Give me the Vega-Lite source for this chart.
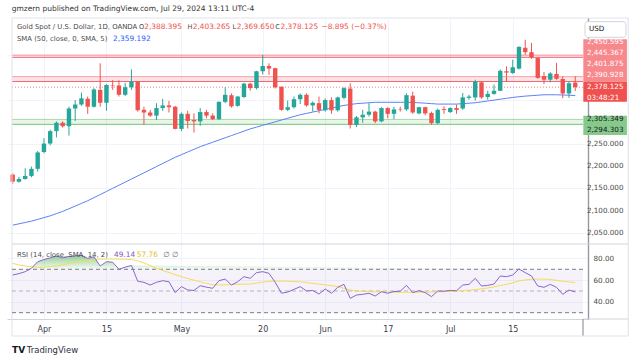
{
  "$schema": "https://vega.github.io/schema/vega-lite/v6.json",
  "width": 581,
  "height": 301,
  "autosize": {"type": "none"},
  "padding": {"left": 7, "top": 18, "right": 55, "bottom": 42},
  "background": "white",
  "config": {
    "view": {"stroke": null},
    "font": "DejaVu Sans",
    "text": {"font": "DejaVu Sans"},
    "axis": {"labelFont": "DejaVu Sans", "labelOverlap": false}
  },
  "datasets": {
    "bars": [
      {"d":"2024-03-22","o":2181,"h":2184,"l":2160,"c":2165,"sma":2067,"rsi":64.7,"rsima":75.5},
      {"d":"2024-03-25","o":2165,"h":2176,"l":2163,"c":2171,"sma":2070,"rsi":66,"rsima":74},
      {"d":"2024-03-26","o":2171,"h":2195,"l":2170,"c":2178,"sma":2073,"rsi":67.8,"rsima":73},
      {"d":"2024-03-27","o":2178,"h":2199,"l":2175,"c":2194,"sma":2076,"rsi":70.9,"rsima":72.3},
      {"d":"2024-03-28","o":2194,"h":2234,"l":2188,"c":2231,"sma":2080,"rsi":77,"rsima":71.8},
      {"d":"2024-04-01","o":2232,"h":2263,"l":2229,"c":2251,"sma":2084,"rsi":79,"rsima":72},
      {"d":"2024-04-02","o":2251,"h":2282,"l":2247,"c":2279,"sma":2088,"rsi":80.5,"rsima":72.5},
      {"d":"2024-04-03","o":2279,"h":2301,"l":2265,"c":2298,"sma":2093,"rsi":82.3,"rsima":73},
      {"d":"2024-04-04","o":2298,"h":2301,"l":2287,"c":2290,"sma":2098,"rsi":80.5,"rsima":74},
      {"d":"2024-04-05","o":2290,"h":2334,"l":2269,"c":2330,"sma":2104,"rsi":82,"rsima":75.5},
      {"d":"2024-04-08","o":2330,"h":2349,"l":2302,"c":2339,"sma":2110,"rsi":82.3,"rsima":76.5},
      {"d":"2024-04-09","o":2339,"h":2366,"l":2336,"c":2353,"sma":2116,"rsi":83,"rsima":77.3},
      {"d":"2024-04-10","o":2352,"h":2357,"l":2318,"c":2334,"sma":2122,"rsi":80.1,"rsima":78},
      {"d":"2024-04-11","o":2334,"h":2376,"l":2332,"c":2373,"sma":2129,"rsi":81.5,"rsima":78.7},
      {"d":"2024-04-12","o":2372,"h":2432,"l":2334,"c":2343,"sma":2136,"rsi":73,"rsima":79.3},
      {"d":"2024-04-15","o":2343,"h":2385,"l":2325,"c":2383,"sma":2143,"rsi":77,"rsima":79.5},
      {"d":"2024-04-16","o":2383,"h":2394,"l":2372,"c":2382,"sma":2150,"rsi":76.5,"rsima":79.5},
      {"d":"2024-04-17","o":2382,"h":2394,"l":2357,"c":2361,"sma":2157,"rsi":70,"rsima":79.4},
      {"d":"2024-04-18","o":2361,"h":2388,"l":2358,"c":2378,"sma":2164,"rsi":72,"rsima":79.3},
      {"d":"2024-04-19","o":2378,"h":2418,"l":2372,"c":2391,"sma":2171,"rsi":73.5,"rsima":79},
      {"d":"2024-04-22","o":2391,"h":2391,"l":2323,"c":2326,"sma":2178,"rsi":59,"rsima":77.8},
      {"d":"2024-04-23","o":2327,"h":2334,"l":2293,"c":2321,"sma":2185,"rsi":58,"rsima":76},
      {"d":"2024-04-24","o":2321,"h":2327,"l":2311,"c":2314,"sma":2192,"rsi":55.5,"rsima":73.5},
      {"d":"2024-04-25","o":2314,"h":2342,"l":2304,"c":2331,"sma":2199,"rsi":58,"rsima":71},
      {"d":"2024-04-26","o":2331,"h":2352,"l":2325,"c":2337,"sma":2206,"rsi":59.5,"rsima":69},
      {"d":"2024-04-29","o":2337,"h":2347,"l":2321,"c":2333,"sma":2213,"rsi":58.5,"rsima":67},
      {"d":"2024-04-30","o":2334,"h":2336,"l":2283,"c":2284,"sma":2220,"rsi":48.5,"rsima":65},
      {"d":"2024-05-01","o":2284,"h":2321,"l":2279,"c":2318,"sma":2226,"rsi":54,"rsima":63.2},
      {"d":"2024-05-02","o":2318,"h":2325,"l":2285,"c":2302,"sma":2232,"rsi":51,"rsima":61.5},
      {"d":"2024-05-03","o":2304,"h":2319,"l":2276,"c":2301,"sma":2238,"rsi":50.5,"rsima":60},
      {"d":"2024-05-06","o":2301,"h":2331,"l":2291,"c":2322,"sma":2244,"rsi":54.9,"rsima":58.6},
      {"d":"2024-05-07","o":2322,"h":2327,"l":2308,"c":2314,"sma":2249,"rsi":53.5,"rsima":57},
      {"d":"2024-05-08","o":2314,"h":2319,"l":2304,"c":2306,"sma":2254,"rsi":52.5,"rsima":55.8},
      {"d":"2024-05-09","o":2306,"h":2346,"l":2304,"c":2345,"sma":2259,"rsi":59.5,"rsima":55.5},
      {"d":"2024-05-10","o":2345,"h":2378,"l":2342,"c":2361,"sma":2264,"rsi":61,"rsima":55.7},
      {"d":"2024-05-13","o":2360,"h":2364,"l":2332,"c":2335,"sma":2269,"rsi":55.5,"rsima":56},
      {"d":"2024-05-14","o":2336,"h":2358,"l":2334,"c":2357,"sma":2274,"rsi":58.5,"rsima":56.2},
      {"d":"2024-05-15","o":2356,"h":2388,"l":2354,"c":2386,"sma":2279,"rsi":63.2,"rsima":56.3},
      {"d":"2024-05-16","o":2386,"h":2388,"l":2370,"c":2376,"sma":2284,"rsi":61.7,"rsima":56.4},
      {"d":"2024-05-17","o":2376,"h":2415,"l":2373,"c":2414,"sma":2288,"rsi":66.9,"rsima":57.3},
      {"d":"2024-05-20","o":2414,"h":2451,"l":2407,"c":2426,"sma":2292,"rsi":67.8,"rsima":58.2},
      {"d":"2024-05-21","o":2426,"h":2432,"l":2406,"c":2420,"sma":2296,"rsi":66.3,"rsima":58.8},
      {"d":"2024-05-22","o":2421,"h":2422,"l":2375,"c":2378,"sma":2300,"rsi":58,"rsima":59.1},
      {"d":"2024-05-23","o":2379,"h":2380,"l":2325,"c":2327,"sma":2304,"rsi":48,"rsima":59.2},
      {"d":"2024-05-24","o":2327,"h":2348,"l":2324,"c":2333,"sma":2308,"rsi":49,"rsima":59},
      {"d":"2024-05-27","o":2333,"h":2357,"l":2330,"c":2351,"sma":2312,"rsi":51.5,"rsima":58.7},
      {"d":"2024-05-28","o":2351,"h":2364,"l":2340,"c":2361,"sma":2316,"rsi":54,"rsima":58.5},
      {"d":"2024-05-29","o":2361,"h":2364,"l":2334,"c":2337,"sma":2319,"rsi":50,"rsima":57.8},
      {"d":"2024-05-30","o":2337,"h":2346,"l":2323,"c":2343,"sma":2322,"rsi":50.5,"rsima":57},
      {"d":"2024-05-31","o":2342,"h":2357,"l":2319,"c":2327,"sma":2325,"rsi":47.2,"rsima":56.4},
      {"d":"2024-06-03","o":2326,"h":2353,"l":2323,"c":2349,"sma":2328,"rsi":51.8,"rsima":55.6},
      {"d":"2024-06-04","o":2349,"h":2355,"l":2318,"c":2326,"sma":2331,"rsi":47.9,"rsima":54.9},
      {"d":"2024-06-05","o":2326,"h":2357,"l":2323,"c":2355,"sma":2334,"rsi":53.4,"rsima":54},
      {"d":"2024-06-06","o":2354,"h":2378,"l":2351,"c":2376,"sma":2337,"rsi":56.1,"rsima":52.5},
      {"d":"2024-06-07","o":2375,"h":2387,"l":2285,"c":2293,"sma":2339,"rsi":43.2,"rsima":51},
      {"d":"2024-06-10","o":2293,"h":2313,"l":2288,"c":2310,"sma":2341,"rsi":46.3,"rsima":50},
      {"d":"2024-06-11","o":2310,"h":2327,"l":2298,"c":2316,"sma":2342,"rsi":46.9,"rsima":49.8},
      {"d":"2024-06-12","o":2316,"h":2342,"l":2312,"c":2323,"sma":2343,"rsi":47.9,"rsima":49.5},
      {"d":"2024-06-13","o":2323,"h":2325,"l":2297,"c":2301,"sma":2344,"rsi":45.4,"rsima":49.3},
      {"d":"2024-06-14","o":2301,"h":2333,"l":2299,"c":2331,"sma":2344,"rsi":49.4,"rsima":49.1},
      {"d":"2024-06-17","o":2331,"h":2333,"l":2308,"c":2318,"sma":2344,"rsi":47.9,"rsima":49},
      {"d":"2024-06-18","o":2318,"h":2334,"l":2306,"c":2328,"sma":2344,"rsi":49.5,"rsima":48.9},
      {"d":"2024-06-19","o":2329,"h":2334,"l":2323,"c":2328,"sma":2344,"rsi":49.8,"rsima":48.8},
      {"d":"2024-06-20","o":2328,"h":2364,"l":2325,"c":2360,"sma":2344,"rsi":55.2,"rsima":48.8},
      {"d":"2024-06-21","o":2359,"h":2368,"l":2318,"c":2321,"sma":2343.5,"rsi":48.5,"rsima":48.8},
      {"d":"2024-06-24","o":2319,"h":2334,"l":2317,"c":2333,"sma":2343,"rsi":50.3,"rsima":48.9},
      {"d":"2024-06-25","o":2333,"h":2334,"l":2315,"c":2319,"sma":2342,"rsi":48.5,"rsima":49},
      {"d":"2024-06-26","o":2320,"h":2323,"l":2294,"c":2297,"sma":2341,"rsi":44.8,"rsima":49.1},
      {"d":"2024-06-27","o":2297,"h":2330,"l":2295,"c":2327,"sma":2340,"rsi":50,"rsima":49.2},
      {"d":"2024-06-28","o":2329,"h":2335,"l":2318,"c":2327,"sma":2340,"rsi":49.8,"rsima":49.4},
      {"d":"2024-07-01","o":2322,"h":2333,"l":2320,"c":2331,"sma":2340,"rsi":50.5,"rsima":49.6},
      {"d":"2024-07-02","o":2331,"h":2339,"l":2318,"c":2327,"sma":2340,"rsi":50.2,"rsima":49.9},
      {"d":"2024-07-03","o":2330,"h":2365,"l":2327,"c":2355,"sma":2341,"rsi":55.5,"rsima":50.3},
      {"d":"2024-07-04","o":2354,"h":2361,"l":2350,"c":2357,"sma":2342,"rsi":56.1,"rsima":50.7},
      {"d":"2024-07-05","o":2355,"h":2395,"l":2348,"c":2391,"sma":2343,"rsi":61.7,"rsima":51.3},
      {"d":"2024-07-08","o":2389,"h":2391,"l":2352,"c":2355,"sma":2345,"rsi":54.6,"rsima":52},
      {"d":"2024-07-09","o":2356,"h":2370,"l":2350,"c":2363,"sma":2347,"rsi":55.2,"rsima":52.8},
      {"d":"2024-07-10","o":2363,"h":2384,"l":2361,"c":2370,"sma":2349,"rsi":56.4,"rsima":53.8},
      {"d":"2024-07-11","o":2370,"h":2418,"l":2369,"c":2415,"sma":2351,"rsi":63.8,"rsima":55},
      {"d":"2024-07-12","o":2414,"h":2425,"l":2391,"c":2411,"sma":2353,"rsi":63.2,"rsima":56.2},
      {"d":"2024-07-15","o":2410,"h":2440,"l":2408,"c":2423,"sma":2355,"rsi":64.7,"rsima":57.5},
      {"d":"2024-07-16","o":2420,"h":2470,"l":2418,"c":2469,"sma":2356.5,"rsi":70.3,"rsima":59.3},
      {"d":"2024-07-17","o":2467,"h":2485,"l":2451,"c":2457,"sma":2358,"rsi":66.9,"rsima":60.2},
      {"d":"2024-07-18","o":2457,"h":2478,"l":2442,"c":2445,"sma":2359,"rsi":63.8,"rsima":60.8},
      {"d":"2024-07-19","o":2444,"h":2445,"l":2397,"c":2399,"sma":2360,"rsi":54.6,"rsima":61},
      {"d":"2024-07-22","o":2403,"h":2412,"l":2385,"c":2395,"sma":2361,"rsi":53.4,"rsima":60.9},
      {"d":"2024-07-23","o":2395,"h":2412,"l":2389,"c":2409,"sma":2361,"rsi":56.1,"rsima":60.7},
      {"d":"2024-07-24","o":2408,"h":2433,"l":2395,"c":2397,"sma":2361,"rsi":53.4,"rsima":59.8},
      {"d":"2024-07-25","o":2396.5,"h":2402,"l":2353,"c":2364,"sma":2360.5,"rsi":46.9,"rsima":59},
      {"d":"2024-07-26","o":2364,"h":2391,"l":2354,"c":2387,"sma":2360,"rsi":50.9,"rsima":58.3},
      {"d":"2024-07-29","o":2388.395,"h":2403.265,"l":2369.65,"c":2378.125,"sma":2359.192,"rsi":49.14,"rsima":57.76}
    ],
    "levels": [
      {"lo":2445.367,"hi":2450.595,"side":"R"},
      {"lo":2390.928,"hi":2401.875,"side":"R"},
      {"lo":2294.303,"hi":2305.349,"side":"G"}
    ],
    "priceTicks": [{"v":2050},{"v":2100},{"v":2150},{"v":2200},{"v":2250}]
  },
  "data": {"name": "bars"},
  "transform": [{"window": [{"op": "row_number", "as": "n"}], "sort": [{"field": "d"}]}],
  "resolve": {"scale": {"y": "independent"}, "axis": {"y": "independent"}},
  "layer": [
    {
      "layer": [
        {
          "data": {"name": "levels"},
          "mark": {"type": "rect", "opacity": 0.13},
          "encoding": {
            "x": {"datum": 0.89, "scale": {"domain": [0.89, 92.24], "nice": false, "zero": false},
              "axis": {"values": [6,16,28,41,51,61,71,81], "labelExpr": "datum.value==6?'Apr':datum.value==16?'15':datum.value==28?'May':datum.value==41?'20':datum.value==51?'Jun':datum.value==61?'17':datum.value==71?'Jul':datum.value==81?'15':''", "ticks": false, "domain": true, "domainColor": "#d1d4dc", "grid": true, "gridColor": "#f0f3fa", "labelPadding": 6, "labelFontSize": 8, "labelColor": "#3a3d48", "labelOverlap": false, "title": null}},
            "x2": {"datum": 92.24},
            "y": {"field": "lo", "type": "quantitative", "scale": {"domain": [1855.4, 2534.1], "nice": false, "zero": false},
              "axis": {"orient": "right", "values": [2050,2100,2150,2200,2250,2300,2350,2400,2450,2500], "labels": false, "grid": true, "gridColor": "#f0f3fa", "ticks": false, "domain": true, "domainColor": "#9598a1", "domainWidth": 1.2, "title": null}},
            "y2": {"field": "hi"},
            "color": {"condition": {"test": "datum.side=='R'", "value": "#f23645"}, "value": "#4caf50"}
          }
        },
        {
          "data": {"name": "levels"},
          "mark": {"type": "rule", "strokeWidth": 1, "opacity": 0.75},
          "encoding": {
            "x": {"datum": 0.89}, "x2": {"datum": 92.24},
            "y": {"field": "lo", "type": "quantitative", "scale": {"domain": [1855.4, 2534.1], "nice": false, "zero": false}},
            "color": {"condition": {"test": "datum.side=='R'", "value": "#f23645"}, "value": "#4caf50"}
          }
        },
        {
          "data": {"name": "levels"},
          "mark": {"type": "rule", "strokeWidth": 1, "opacity": 0.45},
          "encoding": {
            "x": {"datum": 0.89}, "x2": {"datum": 92.24},
            "y": {"field": "hi", "type": "quantitative", "scale": {"domain": [1855.4, 2534.1], "nice": false, "zero": false}},
            "color": {"condition": {"test": "datum.side=='R'", "value": "#f23645"}, "value": "#4caf50"}
          }
        },
        {
          "data": {"values": [{}]},
          "mark": {"type": "rule", "strokeDash": [1, 2], "color": "#ef5350", "opacity": 0.7},
          "encoding": {"x": {"datum": 0.89}, "x2": {"datum": 92.24}, "y": {"datum": 2378.125, "scale": {"domain": [1855.4, 2534.1], "nice": false, "zero": false}}}
        },
        {
          "mark": {"type": "line", "color": "#5b82f6", "strokeWidth": 1},
          "encoding": {
            "x": {"field": "n", "type": "quantitative"},
            "y": {"field": "sma", "type": "quantitative", "scale": {"domain": [1855.4, 2534.1], "nice": false, "zero": false}}
          }
        },
        {
          "mark": {"type": "rule", "strokeWidth": 1},
          "encoding": {
            "x": {"field": "n", "type": "quantitative"},
            "y": {"field": "l", "type": "quantitative", "scale": {"domain": [1855.4, 2534.1], "nice": false, "zero": false}},
            "y2": {"field": "h"},
            "color": {"condition": {"test": "datum.c >= datum.o", "value": "#26a69a"}, "value": "#ef5350"}
          }
        },
        {
          "mark": {"type": "bar", "size": 4.4},
          "encoding": {
            "x": {"field": "n", "type": "quantitative"},
            "y": {"field": "o", "type": "quantitative", "scale": {"domain": [1855.4, 2534.1], "nice": false, "zero": false}},
            "y2": {"field": "c"},
            "color": {"condition": {"test": "datum.c >= datum.o", "value": "#26a69a"}, "value": "#ef5350"}
          }
        },
        {
          "data": {"name": "priceTicks"},
          "mark": {"type": "text", "align": "left", "baseline": "middle", "fontSize": 7.2, "color": "#4a4a4a"},
          "encoding": {
            "x": {"datum": 92.87},
            "y": {"field": "v", "type": "quantitative", "scale": {"domain": [1855.4, 2534.1], "nice": false, "zero": false}},
            "text": {"field": "v", "type": "quantitative", "format": ",.3f"}
          }
        },
        {"data": {"values": [{}]}, "mark": {"type": "text", "text": "gmzern published on TradingView.com, Jul 29, 2024 13:11 UTC-4", "align": "left", "baseline": "middle", "fontSize": 7.5, "color": "#333333"}, "encoding": {"x": {"datum": 0.84}, "y": {"datum": 2554.4}}},
        {"data": {"values": [{}]}, "mark": {"type": "text", "text": "Gold Spot / U.S. Dollar, 1D, OANDA", "align": "left", "baseline": "middle", "fontSize": 6.9, "color": "#4a4a4a"}, "encoding": {"x": {"datum": 1.68}, "y": {"datum": 2514.5}}},
        {"data": {"values": [{}]}, "mark": {"type": "text", "text": "O", "align": "left", "baseline": "middle", "fontSize": 6.6, "color": "#4a4a4a"}, "encoding": {"x": {"datum": 21.2}, "y": {"datum": 2514.5}}},
        {"data": {"values": [{}]}, "mark": {"type": "text", "text": "2,388.395", "align": "left", "baseline": "middle", "fontSize": 7.4, "color": "#ef5350"}, "encoding": {"x": {"datum": 22.05}, "y": {"datum": 2514.5}}},
        {"data": {"values": [{}]}, "mark": {"type": "text", "text": "H", "align": "left", "baseline": "middle", "fontSize": 6.6, "color": "#4a4a4a"}, "encoding": {"x": {"datum": 28.95}, "y": {"datum": 2514.5}}},
        {"data": {"values": [{}]}, "mark": {"type": "text", "text": "2,403.265", "align": "left", "baseline": "middle", "fontSize": 7.4, "color": "#ef5350"}, "encoding": {"x": {"datum": 29.8}, "y": {"datum": 2514.5}}},
        {"data": {"values": [{}]}, "mark": {"type": "text", "text": "L", "align": "left", "baseline": "middle", "fontSize": 6.6, "color": "#4a4a4a"}, "encoding": {"x": {"datum": 36.15}, "y": {"datum": 2514.5}}},
        {"data": {"values": [{}]}, "mark": {"type": "text", "text": "2,369.650", "align": "left", "baseline": "middle", "fontSize": 7.4, "color": "#ef5350"}, "encoding": {"x": {"datum": 36.85}, "y": {"datum": 2514.5}}},
        {"data": {"values": [{}]}, "mark": {"type": "text", "text": "C", "align": "left", "baseline": "middle", "fontSize": 6.6, "color": "#4a4a4a"}, "encoding": {"x": {"datum": 43.0}, "y": {"datum": 2514.5}}},
        {"data": {"values": [{}]}, "mark": {"type": "text", "text": "2,378.125", "align": "left", "baseline": "middle", "fontSize": 7.4, "color": "#ef5350"}, "encoding": {"x": {"datum": 43.85}, "y": {"datum": 2514.5}}},
        {"data": {"values": [{}]}, "mark": {"type": "text", "text": "−8.895 (−0.37%)", "align": "left", "baseline": "middle", "fontSize": 7.4, "color": "#ef5350"}, "encoding": {"x": {"datum": 50.4}, "y": {"datum": 2514.5}}},
        {"data": {"values": [{}]}, "mark": {"type": "text", "text": "SMA (50, close, 0, SMA, 5)", "align": "left", "baseline": "middle", "fontSize": 6.9, "color": "#4a4a4a"}, "encoding": {"x": {"datum": 1.68}, "y": {"datum": 2487.4}}},
        {"data": {"values": [{}]}, "mark": {"type": "text", "text": "2,359.192", "align": "left", "baseline": "middle", "fontSize": 7.4, "color": "#2962ff"}, "encoding": {"x": {"datum": 17.05}, "y": {"datum": 2487.4}}},
        {"data": {"values": [{}]}, "mark": {"type": "rect", "color": "#f7888c"}, "encoding": {"x": {"datum": 92.29}, "x2": {"datum": 99.27}, "y": {"datum": 2486.1}, "y2": {"datum": 2390.5}}},
        {"data": {"values": [{}]}, "mark": {"type": "rect", "color": "#f0514f"}, "encoding": {"x": {"datum": 92.29}, "x2": {"datum": 99.27}, "y": {"datum": 2390.5}, "y2": {"datum": 2345.4}}},
        {"data": {"values": [{}]}, "mark": {"type": "rect", "color": "#86c98a"}, "encoding": {"x": {"datum": 92.29}, "x2": {"datum": 99.27}, "y": {"datum": 2313.8}, "y2": {"datum": 2270.3}}},
        {"data": {"values": [{}]}, "mark": {"type": "text", "text": "2,450.595", "align": "left", "baseline": "middle", "fontSize": 7.2, "color": "white"}, "encoding": {"x": {"datum": 92.87}, "y": {"datum": 2480}}},
        {"data": {"values": [{}]}, "mark": {"type": "text", "text": "2,445.367", "align": "left", "baseline": "middle", "fontSize": 7.2, "color": "white"}, "encoding": {"x": {"datum": 92.87}, "y": {"datum": 2454.5}}},
        {"data": {"values": [{}]}, "mark": {"type": "text", "text": "2,401.875", "align": "left", "baseline": "middle", "fontSize": 7.2, "color": "white"}, "encoding": {"x": {"datum": 92.87}, "y": {"datum": 2429.7}}},
        {"data": {"values": [{}]}, "mark": {"type": "text", "text": "2,390.928", "align": "left", "baseline": "middle", "fontSize": 7.2, "color": "white"}, "encoding": {"x": {"datum": 92.87}, "y": {"datum": 2404.9}}},
        {"data": {"values": [{}]}, "mark": {"type": "text", "text": "2,378.125", "align": "left", "baseline": "middle", "fontSize": 7.2, "color": "white"}, "encoding": {"x": {"datum": 92.87}, "y": {"datum": 2377.8}}},
        {"data": {"values": [{}]}, "mark": {"type": "text", "text": "03:48:21", "align": "left", "baseline": "middle", "fontSize": 7.2, "color": "white"}, "encoding": {"x": {"datum": 92.87}, "y": {"datum": 2353.7}}},
        {"data": {"values": [{}]}, "mark": {"type": "text", "text": "2,305.349", "align": "left", "baseline": "middle", "fontSize": 7.2, "color": "#131722"}, "encoding": {"x": {"datum": 92.87}, "y": {"datum": 2305.7}}},
        {"data": {"values": [{}]}, "mark": {"type": "text", "text": "2,294.303", "align": "left", "baseline": "middle", "fontSize": 7.2, "color": "#131722"}, "encoding": {"x": {"datum": 92.87}, "y": {"datum": 2280.9}}},
        {"data": {"values": [{}]}, "mark": {"type": "rect", "fill": "white", "stroke": "#d1d4dc", "strokeWidth": 1, "cornerRadius": 3}, "encoding": {"x": {"datum": 92.56}, "x2": {"datum": 99.11}, "y": {"datum": 2525.8}, "y2": {"datum": 2490.6}}},
        {"data": {"values": [{}]}, "mark": {"type": "text", "text": "USD", "align": "left", "baseline": "middle", "fontSize": 7.2, "color": "#131722"}, "encoding": {"x": {"datum": 93.18}, "y": {"datum": 2508.2}}},
        {"data": {"values": [{}]}, "mark": {"type": "rule", "color": "#d1d4dc", "strokeWidth": 1}, "encoding": {"x": {"datum": 0.89}, "x2": {"datum": 99.47}, "y": {"datum": 2024.5}}},
        {"data": {"values": [{}]}, "mark": {"type": "rule", "color": "#d1d4dc", "strokeWidth": 1}, "encoding": {"x": {"datum": 92.24}, "x2": {"datum": 99.47}, "y": {"datum": 1855.4}}},
        {"data": {"values": [{}]}, "mark": {"type": "rule", "color": "#9598a1", "strokeWidth": 1.2}, "encoding": {"x": {"datum": 92.24}, "y": {"datum": 1855.4}, "y2": {"datum": 1817.1}}},
        {"data": {"values": [{}]}, "mark": {"type": "rect", "fill": null, "stroke": "#e0e3eb", "strokeWidth": 1}, "encoding": {"x": {"datum": 0.89}, "x2": {"datum": 99.47}, "y": {"datum": 2534.1}, "y2": {"datum": 1817.1}}},
        {"data": {"values": [{}]}, "mark": {"type": "text", "text": "TV", "align": "left", "baseline": "middle", "fontSize": 9, "fontWeight": 900, "color": "#131722"}, "encoding": {"x": {"datum": 0.89}, "y": {"datum": 1785.5}}},
        {"data": {"values": [{}]}, "mark": {"type": "text", "text": "TradingView", "align": "left", "baseline": "middle", "fontSize": 8.5, "color": "#2a2e39"}, "encoding": {"x": {"datum": 3.25}, "y": {"datum": 1785.5}}}
      ]
    },
    {
      "layer": [
        {
          "data": {"values": [{}]},
          "mark": {"type": "rect", "color": "#7e57c2", "opacity": 0.08},
          "encoding": {
            "x": {"datum": 0.89}, "x2": {"datum": 92.24},
            "y": {"datum": 30, "scale": {"domain": [24.19, 301.6], "nice": false, "zero": false},
              "axis": {"orient": "right", "values": [40, 60, 80], "format": ".2f", "labelOverlap": false, "grid": true, "gridColor": "#f0f3fa", "ticks": false, "labelPadding": 5, "domain": true, "domainColor": "#9598a1", "domainWidth": 1.2, "title": null, "labelFontSize": 7.2, "labelColor": "#4a4a4a"}},
            "y2": {"datum": 70}
          }
        },
        {
          "transform": [{"filter": "datum.rsi >= 70"}],
          "mark": {"type": "area", "color": {"gradient": "linear", "x1": 0, "y1": 0, "x2": 0, "y2": 1, "stops": [{"offset": 0, "color": "rgba(76,175,80,0.6)"}, {"offset": 1, "color": "rgba(76,175,80,0.05)"}]}},
          "encoding": {
            "x": {"field": "n", "type": "quantitative"},
            "y": {"field": "rsi", "type": "quantitative", "scale": {"domain": [24.19, 301.6], "nice": false, "zero": false}},
            "y2": {"datum": 70}
          }
        },
        {"data": {"values": [{}]}, "mark": {"type": "rule", "color": "#787b86", "strokeDash": [4, 3], "strokeWidth": 1}, "encoding": {"x": {"datum": 0.89}, "x2": {"datum": 92.24}, "y": {"datum": 70}}},
        {"data": {"values": [{}]}, "mark": {"type": "rule", "color": "#787b86", "strokeDash": [4, 3], "strokeWidth": 1, "opacity": 0.5}, "encoding": {"x": {"datum": 0.89}, "x2": {"datum": 92.24}, "y": {"datum": 50}}},
        {"data": {"values": [{}]}, "mark": {"type": "rule", "color": "#787b86", "strokeDash": [4, 3], "strokeWidth": 1}, "encoding": {"x": {"datum": 0.89}, "x2": {"datum": 92.24}, "y": {"datum": 30}}},
        {
          "mark": {"type": "line", "color": "#f5dc5a", "strokeWidth": 1},
          "encoding": {"x": {"field": "n", "type": "quantitative"}, "y": {"field": "rsima", "type": "quantitative", "scale": {"domain": [24.19, 301.6], "nice": false, "zero": false}}}
        },
        {
          "mark": {"type": "line", "color": "#8a66cf", "strokeWidth": 1},
          "encoding": {"x": {"field": "n", "type": "quantitative"}, "y": {"field": "rsi", "type": "quantitative", "scale": {"domain": [24.19, 301.6], "nice": false, "zero": false}}}
        },
        {"data": {"values": [{}]}, "mark": {"type": "text", "text": "RSI (14, close, SMA, 14, 2)", "align": "left", "baseline": "middle", "fontSize": 6.9, "color": "#4a4a4a"}, "encoding": {"x": {"datum": 1.68}, "y": {"datum": 83.2}}},
        {"data": {"values": [{}]}, "mark": {"type": "text", "text": "49.14", "align": "left", "baseline": "middle", "fontSize": 7.4, "color": "#7e57c2"}, "encoding": {"x": {"datum": 17.2}, "y": {"datum": 83.2}}},
        {"data": {"values": [{}]}, "mark": {"type": "text", "text": "57.76", "align": "left", "baseline": "middle", "fontSize": 7.4, "color": "#e6c229"}, "encoding": {"x": {"datum": 20.86}, "y": {"datum": 83.2}}},
        {"data": {"values": [{}]}, "mark": {"type": "text", "text": "∅ ∅", "align": "left", "baseline": "middle", "fontSize": 7.4, "color": "#6a6d78"}, "encoding": {"x": {"datum": 25.1}, "y": {"datum": 83.2}}}
      ]
    }
  ]
}
